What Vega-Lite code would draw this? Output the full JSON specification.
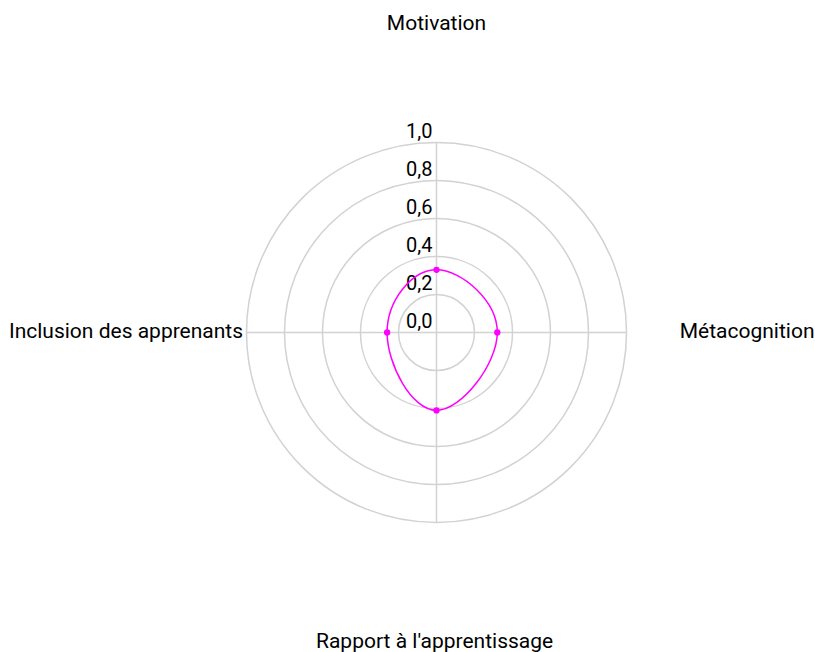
{
  "$schema": "https://vega.github.io/schema/vega-lite/v6.json",
  "width": 757,
  "height": 639,
  "autosize": {"type": "none"},
  "padding": {"left": 58, "top": 13, "right": 0, "bottom": 0},
  "background": "white",
  "config": {
    "view": {"stroke": null},
    "font": "Roboto"
  },
  "datasets": {
    "scores": [
      {"axe": "Motivation", "valeur": 0.33},
      {"axe": "Métacognition", "valeur": 0.32},
      {"axe": "Rapport à l'apprentissage", "valeur": 0.41},
      {"axe": "Inclusion des apprenants", "valeur": 0.26}
    ],
    "grille": [{"r": 0.2}, {"r": 0.4}, {"r": 0.6}, {"r": 0.8}, {"r": 1.0}],
    "graduations": [{"r": 0}, {"r": 0.2}, {"r": 0.4}, {"r": 0.6}, {"r": 0.8}, {"r": 1.0}]
  },
  "layer": [
    {
      "data": {"name": "grille"},
      "transform": [{"calculate": "0", "as": "c"}],
      "mark": {"type": "point", "shape": "circle", "filled": false, "stroke": "#d2d2d2", "strokeWidth": 1.5, "opacity": 1},
      "encoding": {
        "x": {"field": "c", "type": "quantitative", "scale": {"domain": [-1.99211, 1.99211], "nice": false, "zero": false}, "axis": null},
        "y": {"field": "c", "type": "quantitative", "scale": {"domain": [-1.68158, 1.68158], "nice": false, "zero": false}, "axis": null},
        "size": {"field": "r", "type": "quantitative", "scale": {"type": "pow", "exponent": 2, "domain": [0, 1], "range": [0, 144400], "zero": true, "nice": false}, "legend": null}
      }
    },
    {
      "data": {"name": "scores"},
      "transform": [
        {"calculate": "indexof(['Motivation','Métacognition','Rapport à l\\'apprentissage','Inclusion des apprenants'], datum.axe) * PI / 2", "as": "ang"},
        {"calculate": "0", "as": "c"},
        {"calculate": "sin(datum.ang)", "as": "sx"},
        {"calculate": "cos(datum.ang)", "as": "sy"}
      ],
      "mark": {"type": "rule", "stroke": "#d2d2d2", "strokeWidth": 1.5},
      "encoding": {
        "x": {"field": "c", "type": "quantitative", "scale": {"domain": [-1.99211, 1.99211], "nice": false, "zero": false}, "axis": null},
        "y": {"field": "c", "type": "quantitative", "scale": {"domain": [-1.68158, 1.68158], "nice": false, "zero": false}, "axis": null},
        "x2": {"field": "sx"},
        "y2": {"field": "sy"}
      }
    },
    {
      "data": {"name": "graduations"},
      "transform": [
        {"calculate": "0", "as": "c"},
        {"calculate": "replace(format(datum.r, '.1f'), '.', ',')", "as": "lab"}
      ],
      "mark": {"type": "text", "align": "right", "baseline": "alphabetic", "dx": -4, "dy": -5, "fontSize": 20, "color": "#000000"},
      "encoding": {
        "x": {"field": "c", "type": "quantitative", "scale": {"domain": [-1.99211, 1.99211], "nice": false, "zero": false}, "axis": null},
        "y": {"field": "r", "type": "quantitative", "scale": {"domain": [-1.68158, 1.68158], "nice": false, "zero": false}, "axis": null},
        "text": {"field": "lab", "type": "nominal"}
      }
    },
    {
      "data": {"name": "scores"},
      "transform": [
        {"calculate": "indexof(['Motivation','Métacognition','Rapport à l\\'apprentissage','Inclusion des apprenants'], datum.axe)", "as": "idx"},
        {"calculate": "datum.valeur * sin(datum.idx * PI / 2)", "as": "px"},
        {"calculate": "datum.valeur * cos(datum.idx * PI / 2)", "as": "py"}
      ],
      "mark": {"type": "line", "interpolate": "cardinal-closed", "tension": -0.35, "color": "#ff00ff", "strokeWidth": 1.5},
      "encoding": {
        "x": {"field": "px", "type": "quantitative", "scale": {"domain": [-1.99211, 1.99211], "nice": false, "zero": false}, "axis": null},
        "y": {"field": "py", "type": "quantitative", "scale": {"domain": [-1.68158, 1.68158], "nice": false, "zero": false}, "axis": null},
        "order": {"field": "idx", "type": "quantitative"}
      }
    },
    {
      "data": {"name": "scores"},
      "transform": [
        {"calculate": "indexof(['Motivation','Métacognition','Rapport à l\\'apprentissage','Inclusion des apprenants'], datum.axe)", "as": "idx"},
        {"calculate": "datum.valeur * sin(datum.idx * PI / 2)", "as": "px"},
        {"calculate": "datum.valeur * cos(datum.idx * PI / 2)", "as": "py"}
      ],
      "mark": {"type": "point", "filled": true, "size": 40, "color": "#ff00ff", "opacity": 1},
      "encoding": {
        "x": {"field": "px", "type": "quantitative", "scale": {"domain": [-1.99211, 1.99211], "nice": false, "zero": false}, "axis": null},
        "y": {"field": "py", "type": "quantitative", "scale": {"domain": [-1.68158, 1.68158], "nice": false, "zero": false}, "axis": null}
      }
    },
    {
      "data": {"name": "scores"},
      "transform": [
        {"filter": "datum.axe === 'Motivation' || datum.axe === 'Rapport à l\\'apprentissage'"},
        {"calculate": "datum.axe === 'Motivation' ? 0 : -0.01", "as": "lx"},
        {"calculate": "datum.axe === 'Motivation' ? 1.592 : -1.658", "as": "ly"}
      ],
      "mark": {"type": "text", "align": "center", "baseline": "alphabetic", "fontSize": 21, "color": "#000000"},
      "encoding": {
        "x": {"field": "lx", "type": "quantitative", "scale": {"domain": [-1.99211, 1.99211], "nice": false, "zero": false}, "axis": null},
        "y": {"field": "ly", "type": "quantitative", "scale": {"domain": [-1.68158, 1.68158], "nice": false, "zero": false}, "axis": null},
        "text": {"field": "axe", "type": "nominal"}
      }
    },
    {
      "data": {"name": "scores"},
      "transform": [
        {"filter": "datum.axe === 'Métacognition'"},
        {"calculate": "1.28", "as": "lx"},
        {"calculate": "-0.0305", "as": "ly"}
      ],
      "mark": {"type": "text", "align": "left", "baseline": "alphabetic", "fontSize": 21, "color": "#000000"},
      "encoding": {
        "x": {"field": "lx", "type": "quantitative", "scale": {"domain": [-1.99211, 1.99211], "nice": false, "zero": false}, "axis": null},
        "y": {"field": "ly", "type": "quantitative", "scale": {"domain": [-1.68158, 1.68158], "nice": false, "zero": false}, "axis": null},
        "text": {"field": "axe", "type": "nominal"}
      }
    },
    {
      "data": {"name": "scores"},
      "transform": [
        {"filter": "datum.axe === 'Inclusion des apprenants'"},
        {"calculate": "-1.018", "as": "lx"},
        {"calculate": "-0.0305", "as": "ly"}
      ],
      "mark": {"type": "text", "align": "right", "baseline": "alphabetic", "fontSize": 21, "color": "#000000"},
      "encoding": {
        "x": {"field": "lx", "type": "quantitative", "scale": {"domain": [-1.99211, 1.99211], "nice": false, "zero": false}, "axis": null},
        "y": {"field": "ly", "type": "quantitative", "scale": {"domain": [-1.68158, 1.68158], "nice": false, "zero": false}, "axis": null},
        "text": {"field": "axe", "type": "nominal"}
      }
    }
  ]
}
